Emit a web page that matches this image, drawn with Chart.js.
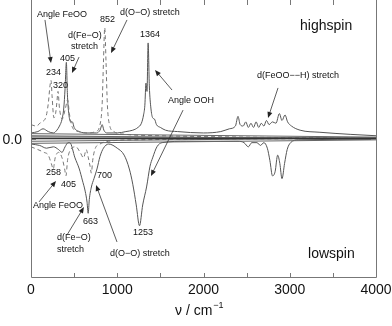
<!DOCTYPE html>
<html>
<head>
<meta charset="utf-8">
<script src="https://cdn.jsdelivr.net/npm/chart.js@4"></script>
<style>
  body { margin: 0; background: #fff; }
  canvas { display: block; }
</style>
</head>
<body>
<canvas id="spektrum" width="392" height="326"></canvas>
<script>
// Achsenbeschriftung
const xTicks = [0, 1000, 2000, 3000, 4000];
const xKleineTicks = [500, 1500, 2500, 3500];
const yTicks = [0.0];

// highspin, durchgezogen  [Wellenzahl, Intensitaet]
const highspinDurch = [
  [0, 0.04], [80, 0.05], [140, 0.07], [200, 0.05], [260, 0.04], [300, 0.06],
  [330, 0.09], [360, 0.14], [380, 0.22], [395, 0.36], [410, 0.55], [422, 0.32],
  [438, 0.18], [460, 0.12], [480, 0.12], [500, 0.08], [560, 0.05], [650, 0.04],
  [760, 0.04], [800, 0.06], [825, 0.10], [845, 0.06], [880, 0.04], [1000, 0.04],
  [1100, 0.05], [1180, 0.06], [1240, 0.08], [1280, 0.11], [1305, 0.17], [1320, 0.24],
  [1333, 0.40], [1345, 0.34], [1358, 0.69], [1372, 0.38], [1390, 0.22], [1410, 0.15],
  [1432, 0.14], [1455, 0.10], [1500, 0.08], [1560, 0.06], [1700, 0.05], [2000, 0.04],
  [2200, 0.05], [2300, 0.07], [2370, 0.09], [2400, 0.16], [2425, 0.10], [2460, 0.09],
  [2490, 0.12], [2520, 0.08], [2550, 0.11], [2580, 0.08], [2610, 0.12], [2640, 0.08],
  [2670, 0.11], [2700, 0.09], [2730, 0.13], [2760, 0.10], [2800, 0.12], [2840, 0.11],
  [2880, 0.18], [2910, 0.13], [2945, 0.17], [2975, 0.12], [3020, 0.09], [3120, 0.06],
  [3350, 0.045], [3700, 0.03], [4000, 0.02],
];

// highspin, gestrichelt
const highspinGestr = [
  [0, 0.10], [60, 0.09], [120, 0.12], [170, 0.15], [200, 0.25], [220, 0.38],
  [232, 0.42], [245, 0.30], [265, 0.15], [285, 0.18], [300, 0.26], [313, 0.34],
  [330, 0.22], [360, 0.14], [400, 0.22], [425, 0.28], [445, 0.18], [480, 0.08],
  [550, 0.05], [650, 0.04], [750, 0.05], [800, 0.10], [825, 0.25], [840, 0.55],
  [855, 0.80], [870, 0.55], [885, 0.25], [910, 0.10], [960, 0.05], [1100, 0.03],
  [1500, 0.02], [2500, 0.01], [4000, 0.0],
];

// lowspin, durchgezogen
const lowspinDurch = [
  [0, -0.04], [100, -0.05], [180, -0.07], [260, -0.06], [320, -0.08], [360, -0.10],
  [395, -0.06], [430, -0.03], [450, -0.03], [510, -0.14], [560, -0.22], [595, -0.30],
  [628, -0.38], [650, -0.46], [663, -0.54], [676, -0.44], [700, -0.35], [730, -0.29],
  [765, -0.22], [800, -0.13], [840, -0.07], [900, -0.04], [1000, -0.07], [1080, -0.12],
  [1140, -0.22], [1180, -0.33], [1220, -0.48], [1258, -0.63], [1295, -0.48], [1340, -0.35],
  [1380, -0.20], [1410, -0.14], [1460, -0.06], [1520, -0.03], [1800, -0.02], [2200, -0.02],
  [2400, -0.02], [2470, -0.03], [2520, -0.06], [2560, -0.03], [2620, -0.03], [2660, -0.05],
  [2700, -0.03], [2740, -0.07], [2770, -0.16], [2800, -0.27], [2830, -0.24], [2860, -0.12],
  [2885, -0.18], [2910, -0.29], [2940, -0.18], [2970, -0.08], [3010, -0.03], [3100, -0.01],
  [4000, -0.005],
];

// lowspin, gestrichelt
const lowspinGestr = [
  [0, -0.06], [80, -0.08], [150, -0.10], [200, -0.12], [235, -0.18], [258, -0.22],
  [280, -0.14], [320, -0.10], [360, -0.14], [390, -0.22], [405, -0.27], [425, -0.15],
  [460, -0.08], [520, -0.06], [570, -0.10], [610, -0.14], [640, -0.08], [665, -0.14],
  [685, -0.20], [700, -0.25], [715, -0.16], [740, -0.08], [800, -0.04], [900, -0.02],
  [1200, -0.01], [4000, 0.0],
];

// Grundlinien um Null
const grundlinien = [
  [[0, 0.0], [4000, 0.0]],
  [[0, 0.012], [4000, 0.004]],
  [[0, 0.02], [4000, -0.005]],
  [[0, -0.02], [4000, 0.005]],
  [[0, 0.035], [4000, 0.01]],
  [[0, -0.035], [4000, -0.01]],
];

// Beschriftungen im Diagramm (Wellenzahl, Intensitaet, Text)
const beschriftungen = [
  { x: 70, y: 0.877, text: "Angle FeOO" },
  { x: 800, y: 0.841, text: "852" },
  { x: 1032, y: 0.892, text: "d(O\u2212O) stretch" },
  { x: 429, y: 0.726, text: "d(Fe\u2212O)" },
  { x: 464, y: 0.646, text: "stretch" },
  { x: 336, y: 0.560, text: "405" },
  { x: 174, y: 0.458, text: "234" },
  { x: 255, y: 0.365, text: "320" },
  { x: 1264, y: 0.733, text: "1364" },
  { x: 1588, y: 0.256, text: "Angle OOH" },
  { x: 2620, y: 0.437, text: "d(FeOO\u2212\u2212H) stretch" },
  { x: 174, y: -0.264, text: "258" },
  { x: 348, y: -0.350, text: "405" },
  { x: 765, y: -0.285, text: "700" },
  { x: 23, y: -0.502, text: "Angle FeOO" },
  { x: 603, y: -0.617, text: "663" },
  { x: 1183, y: -0.697, text: "1253" },
  { x: 301, y: -0.733, text: "d(Fe\u2212O)" },
  { x: 301, y: -0.819, text: "stretch" },
  { x: 916, y: -0.848, text: "d(O\u2212O) stretch" },
];

const spinTexte = [
  { x: 3119, y: 0.783, text: "highspin" },
  { x: 3212, y: -0.863, text: "lowspin" },
];

// Pfeile von - nach
const pfeile = [
  [[162, 0.856], [232, 0.545]],
  [[1113, 0.856], [928, 0.617]],
  [[557, 0.588], [475, 0.473]],
  [[1635, 0.350], [1438, 0.495]],
  [[1763, 0.205], [1391, -0.271]],
  [[2864, 0.365], [2748, 0.148]],
  [[93, -0.458], [290, -0.307]],
  [[417, -0.697], [614, -0.495]],
  [[997, -0.747], [754, -0.336]],
];

const schrift = "Liberation Sans, Arial, Helvetica, sans-serif";

function punkte(daten) {
  return daten.map(([x, y]) => ({ x: x, y: y }));
}

function zeichnePfeil(ctx, x0, y0, x1, y1) {
  const winkel = Math.atan2(y1 - y0, x1 - x0);
  ctx.beginPath();
  ctx.moveTo(x0, y0);
  ctx.lineTo(x1 - 4 * Math.cos(winkel), y1 - 4 * Math.sin(winkel));
  ctx.stroke();
  ctx.beginPath();
  ctx.moveTo(x1, y1);
  ctx.lineTo(x1 - 6 * Math.cos(winkel) + 2.5 * Math.sin(winkel), y1 - 6 * Math.sin(winkel) - 2.5 * Math.cos(winkel));
  ctx.lineTo(x1 - 6 * Math.cos(winkel) - 2.5 * Math.sin(winkel), y1 - 6 * Math.sin(winkel) + 2.5 * Math.cos(winkel));
  ctx.closePath();
  ctx.fill();
}

// Rahmen, Ticks, Achsentexte und Beschriftungen
const rahmenPlugin = {
  id: "rahmen",
  afterDatasetsDraw(chart) {
    const ctx = chart.ctx;
    const area = chart.chartArea;
    const sx = chart.scales.x;
    const sy = chart.scales.y;
    ctx.save();

    ctx.strokeStyle = "#777";
    ctx.lineWidth = 1;
    ctx.beginPath();
    ctx.moveTo(Math.round(area.left) + 0.5, area.top);
    ctx.lineTo(Math.round(area.left) + 0.5, Math.round(area.bottom) + 0.5);
    ctx.lineTo(Math.round(area.right) + 0.5, Math.round(area.bottom) + 0.5);
    ctx.lineTo(Math.round(area.right) + 0.5, area.top);
    ctx.stroke();

    // Ticks nach innen, oben und unten
    ctx.beginPath();
    xTicks.concat(xKleineTicks).forEach((wert) => {
      const px = Math.round(sx.getPixelForValue(wert)) + 0.5;
      ctx.moveTo(px, area.bottom);
      ctx.lineTo(px, area.bottom - 4);
      ctx.moveTo(px, area.top);
      ctx.lineTo(px, area.top + 5);
    });
    yTicks.forEach((wert) => {
      const py = Math.round(sy.getPixelForValue(wert)) + 0.5;
      ctx.moveTo(area.left, py);
      ctx.lineTo(area.left + 5, py);
      ctx.moveTo(area.right, py);
      ctx.lineTo(area.right - 5, py);
    });
    ctx.stroke();

    ctx.fillStyle = "#111";
    ctx.font = "14px " + schrift;
    ctx.textAlign = "center";
    ctx.textBaseline = "alphabetic";
    xTicks.forEach((wert) => {
      ctx.fillText(String(wert), sx.getPixelForValue(wert), area.bottom + 17);
    });
    ctx.textAlign = "right";
    yTicks.forEach((wert) => {
      ctx.fillText(wert.toFixed(1), area.left - 9, sy.getPixelForValue(wert) + 5);
    });

    // Achsentitel mit Exponent
    ctx.textAlign = "left";
    const titel = "\u03bd / cm";
    const tx = 175;
    ctx.fillText(titel, tx, 315);
    const breite = ctx.measureText(titel).width;
    ctx.font = "9px " + schrift;
    ctx.fillText("\u22121", tx + breite + 1, 308);

    ctx.font = "14px " + schrift;
    spinTexte.forEach((b) => {
      ctx.fillText(b.text, sx.getPixelForValue(b.x), sy.getPixelForValue(b.y));
    });

    ctx.font = "9px " + schrift;
    beschriftungen.forEach((b) => {
      ctx.fillText(b.text, sx.getPixelForValue(b.x), sy.getPixelForValue(b.y));
    });

    ctx.strokeStyle = "#333";
    ctx.fillStyle = "#222";
    ctx.lineWidth = 0.8;
    pfeile.forEach(([von, nach]) => {
      zeichnePfeil(
        ctx,
        sx.getPixelForValue(von[0]), sy.getPixelForValue(von[1]),
        sx.getPixelForValue(nach[0]), sy.getPixelForValue(nach[1])
      );
    });
    ctx.restore();
  },
};

function linie(daten, farbe, gestrichelt, breite) {
  return {
    data: punkte(daten),
    borderColor: farbe,
    borderWidth: breite,
    borderDash: gestrichelt ? [4, 3] : [],
    pointRadius: 0,
    fill: false,
    cubicInterpolationMode: "monotone",
  };
}

const datensaetze = grundlinien.map((g, i) => linie(g, i === 0 ? "#333" : "#666", false, i === 0 ? 1.6 : 1));
datensaetze.push(linie(highspinGestr, "#777", true, 1));
datensaetze.push(linie(lowspinGestr, "#777", true, 1));
datensaetze.push(linie(highspinDurch, "#555", false, 1));
datensaetze.push(linie(lowspinDurch, "#555", false, 1));

const canvas = document.getElementById("spektrum").getContext("2d");
const diagramm = new Chart(canvas, {
  type: "line",
  data: { datasets: datensaetze },
  options: {
    responsive: false,
    animation: false,
    layout: {
      padding: { left: 31, right: 16, top: 0, bottom: 49 },
    },
    plugins: {
      legend: { display: false },
      tooltip: { enabled: false },
    },
    scales: {
      x: { type: "linear", min: 0, max: 4000, display: false },
      y: { type: "linear", min: -1, max: 1, display: false },
    },
  },
  plugins: [rahmenPlugin],
});
</script>
</body>
</html>
